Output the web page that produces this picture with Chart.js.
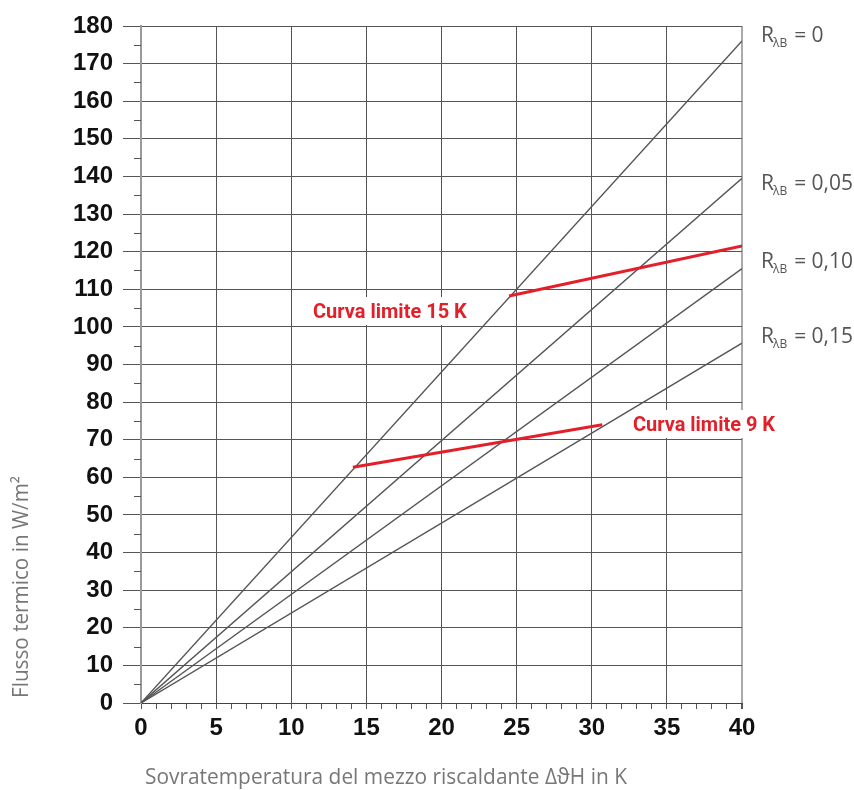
<!DOCTYPE html>
<html lang="it">
<head>
<meta charset="UTF-8">
<title>Flusso termico</title>
<script src="https://cdn.jsdelivr.net/npm/chart.js"></script>
<style>
    body { margin: 0; background: #fff; }
    #chart { display: block; }
</style>
</head>
<body>
<canvas id="chart" width="854" height="790"></canvas>
<script>
    // values
    const lineX = [0, 40];
    const fluxR000 = [0, 176];
    const fluxR005 = [0, 139.5];
    const fluxR010 = [0, 115.5];
    const fluxR015 = [0, 95.7];
    const rLabels = ['0', '0,05', '0,10', '0,15'];

    const limit15X = [24.5, 40];
    const limit15Y = [108.2, 121.5];
    const limit9X = [14.1, 30.7];
    const limit9Y = [62.7, 74];

    const xTitle = 'Sovratemperatura del mezzo riscaldante \u0394\u03D1H in K';
    const yTitle = 'Flusso termico in W/m\u00B2';

    function pts(xs, ys) {
        return xs.map((x, i) => ({ x: x, y: ys[i] }));
    }

    function greyLine(ys) {
        return { data: pts(lineX, ys), borderColor: '#555', borderWidth: 1.4, pointRadius: 0, order: 2 };
    }

    function redLine(xs, ys) {
        return { data: pts(xs, ys), borderColor: '#e3202a', borderWidth: 3, pointRadius: 0, order: 1 };
    }

    const textFont = '21px "Open Sans", "DejaVu Sans", sans-serif';
    const redFont = 'bold 20px Roboto, "Liberation Sans", sans-serif';

    const extras = {
        id: 'extras',
        afterDraw(chart) {
            const ctx = chart.ctx;
            const ys = chart.scales.y;
            const left = chart.chartArea.left;

            // minor ticks on the y axis
            ctx.save();
            ctx.strokeStyle = '#555';
            ctx.lineWidth = 1;
            for (let v = 5; v < 180; v += 10) {
                const py = Math.round(ys.getPixelForValue(v)) + 0.5;
                ctx.beginPath();
                ctx.moveTo(left - 7, py);
                ctx.lineTo(left, py);
                ctx.stroke();
            }

            // red limit-curve labels on white boxes
            ctx.font = redFont;
            ctx.textBaseline = 'alphabetic';
            function redLabel(text, x, y, w) {
                ctx.fillStyle = '#fff';
                ctx.fillRect(x - 1, y - 21, w + 8, 28);
                ctx.fillStyle = '#e3202a';
                ctx.fillText(text, x, y, w);
            }
            redLabel('Curva limite 15 K', 313, 318, 154);
            redLabel('Curva limite 9 K', 633, 431, 142);

            // R labels on the right
            const rBase = [42, 190, 268, 343];
            ctx.fillStyle = '#555';
            rLabels.forEach((r, i) => {
                let x = 761;
                const y = rBase[i];
                ctx.font = textFont;
                ctx.fillText('R', x, y);
                x += ctx.measureText('R').width - 1;
                ctx.font = '12px "Open Sans", "DejaVu Sans", sans-serif';
                ctx.fillText('\u03BBB', x, y + 5);
                x += ctx.measureText('\u03BBB').width + 7;
                ctx.font = textFont;
                ctx.fillText('= ' + r, x, y, 853 - x);
            });

            // axis titles
            ctx.fillStyle = '#777';
            ctx.font = textFont;
            ctx.textAlign = 'left';
            ctx.fillText(xTitle, 145, 784, 482);
            ctx.translate(28, 587);
            ctx.rotate(-Math.PI / 2);
            ctx.textAlign = 'center';
            ctx.fillText(yTitle, 0, 0, 222);
            ctx.restore();
        }
    };

    const tickFont = { family: '"Liberation Sans", Arial, sans-serif', weight: 'bold', size: 24 };

    new Chart(document.getElementById('chart'), {
        type: 'line',
        data: {
            datasets: [
                greyLine(fluxR000),
                greyLine(fluxR005),
                greyLine(fluxR010),
                greyLine(fluxR015),
                redLine(limit15X, limit15Y),
                redLine(limit9X, limit9Y)
            ]
        },
        options: {
            responsive: false,
            animation: false,
            devicePixelRatio: 1,
            layout: { padding: { top: 26, right: 112, left: 0, bottom: 0 } },
            plugins: { legend: { display: false }, tooltip: { enabled: false } },
            scales: {
                x: {
                    type: 'linear', min: 0, max: 40,
                    afterFit: s => { s.height = 87; },
                    ticks: {
                        stepSize: 1, autoSkip: false, maxRotation: 0, padding: 5,
                        color: '#111', font: tickFont,
                        callback: v => v % 5 === 0 ? v : ''
                    },
                    grid: {
                        color: c => c.tick && c.tick.value === 40 ? '#aaa' : (c.tick && c.tick.value % 5 === 0 ? '#555' : 'rgba(0,0,0,0)'),
                        lineWidth: c => c.tick && c.tick.value === 40 ? 2 : 1,
                        tickColor: '#555',
                        tickLength: 6
                    },
                    border: { color: '#444', width: 1 }
                },
                y: {
                    min: 0, max: 180,
                    afterFit: s => { s.width = 141; },
                    ticks: { stepSize: 10, padding: 10, color: '#111', font: tickFont },
                    grid: { color: '#555', tickColor: '#555', tickLength: 18, lineWidth: 1 },
                    border: { color: '#999', width: 2 }
                }
            }
        },
        plugins: [extras]
    });
</script>
</body>
</html>
